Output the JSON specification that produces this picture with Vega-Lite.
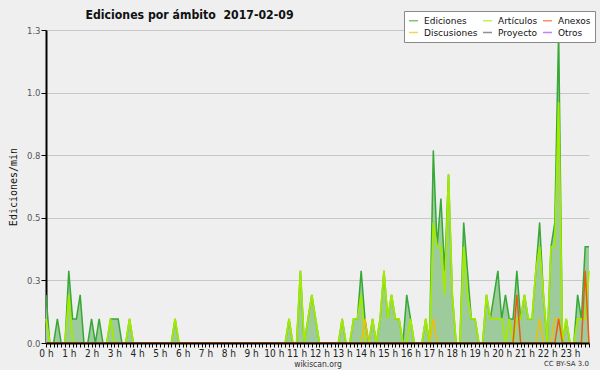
{
  "$schema": "https://vega.github.io/schema/vega-lite/v6.json",
  "background": "#efefef",
  "padding": {"left": 8, "top": 9, "right": 5, "bottom": 4},
  "title": {"text": "Ediciones por ámbito\u00a0 2017-02-09", "anchor": "start", "dx": 77, "offset": -11, "font": "DejaVu Sans Condensed", "fontSize": 12.2, "fontWeight": "bold", "color": "#111111"},
  "vconcat": [
    {
      "width": 543,
      "height": 313,
      "title": {"text": "CC BY-SA 3.0", "orient": "bottom", "anchor": "end", "frame": "group", "offset": -8, "font": "DejaVu Sans", "fontSize": 7, "fontWeight": "normal", "color": "#333333"},
      "data": {"values": [
        {"t":0,"e":0.1923,"a":0.0962,"d":0,"n":0},
        {"t":10,"e":0,"a":0,"d":0,"n":0},
        {"t":20,"e":0,"a":0,"d":0,"n":0},
        {"t":30,"e":0.0962,"a":0,"d":0,"n":0},
        {"t":40,"e":0,"a":0,"d":0,"n":0},
        {"t":50,"e":0,"a":0,"d":0,"n":0},
        {"t":60,"e":0.2885,"a":0.1923,"d":0,"n":0},
        {"t":70,"e":0.0962,"a":0,"d":0,"n":0},
        {"t":80,"e":0.0962,"a":0,"d":0,"n":0},
        {"t":90,"e":0.1923,"a":0,"d":0,"n":0},
        {"t":100,"e":0,"a":0,"d":0,"n":0},
        {"t":110,"e":0,"a":0,"d":0,"n":0},
        {"t":120,"e":0.0962,"a":0,"d":0,"n":0},
        {"t":130,"e":0,"a":0,"d":0,"n":0},
        {"t":140,"e":0.0962,"a":0,"d":0,"n":0},
        {"t":150,"e":0,"a":0,"d":0,"n":0},
        {"t":160,"e":0,"a":0,"d":0,"n":0},
        {"t":170,"e":0.0962,"a":0.0962,"d":0,"n":0},
        {"t":180,"e":0.0962,"a":0,"d":0,"n":0},
        {"t":190,"e":0.0962,"a":0,"d":0,"n":0},
        {"t":200,"e":0,"a":0,"d":0,"n":0},
        {"t":210,"e":0,"a":0,"d":0,"n":0},
        {"t":220,"e":0.0962,"a":0.0962,"d":0,"n":0},
        {"t":230,"e":0,"a":0,"d":0,"n":0},
        {"t":240,"e":0,"a":0,"d":0,"n":0},
        {"t":250,"e":0,"a":0,"d":0,"n":0},
        {"t":260,"e":0,"a":0,"d":0,"n":0},
        {"t":270,"e":0,"a":0,"d":0,"n":0},
        {"t":280,"e":0,"a":0,"d":0,"n":0},
        {"t":290,"e":0,"a":0,"d":0,"n":0},
        {"t":300,"e":0,"a":0,"d":0,"n":0},
        {"t":310,"e":0,"a":0,"d":0,"n":0},
        {"t":320,"e":0,"a":0,"d":0,"n":0},
        {"t":330,"e":0,"a":0,"d":0,"n":0},
        {"t":340,"e":0.0962,"a":0.0962,"d":0,"n":0},
        {"t":350,"e":0,"a":0,"d":0,"n":0},
        {"t":360,"e":0,"a":0,"d":0,"n":0},
        {"t":370,"e":0,"a":0,"d":0,"n":0},
        {"t":380,"e":0,"a":0,"d":0,"n":0},
        {"t":390,"e":0,"a":0,"d":0,"n":0},
        {"t":400,"e":0,"a":0,"d":0,"n":0},
        {"t":410,"e":0,"a":0,"d":0,"n":0},
        {"t":420,"e":0,"a":0,"d":0,"n":0},
        {"t":430,"e":0,"a":0,"d":0,"n":0},
        {"t":440,"e":0,"a":0,"d":0,"n":0},
        {"t":450,"e":0,"a":0,"d":0,"n":0},
        {"t":460,"e":0,"a":0,"d":0,"n":0},
        {"t":470,"e":0,"a":0,"d":0,"n":0},
        {"t":480,"e":0,"a":0,"d":0,"n":0},
        {"t":490,"e":0,"a":0,"d":0,"n":0},
        {"t":500,"e":0,"a":0,"d":0,"n":0},
        {"t":510,"e":0,"a":0,"d":0,"n":0},
        {"t":520,"e":0,"a":0,"d":0,"n":0},
        {"t":530,"e":0,"a":0,"d":0,"n":0},
        {"t":540,"e":0,"a":0,"d":0,"n":0},
        {"t":550,"e":0,"a":0,"d":0,"n":0},
        {"t":560,"e":0,"a":0,"d":0,"n":0},
        {"t":570,"e":0,"a":0,"d":0,"n":0},
        {"t":580,"e":0,"a":0,"d":0,"n":0},
        {"t":590,"e":0,"a":0,"d":0,"n":0},
        {"t":600,"e":0,"a":0,"d":0,"n":0},
        {"t":610,"e":0,"a":0,"d":0,"n":0},
        {"t":620,"e":0,"a":0,"d":0,"n":0},
        {"t":630,"e":0,"a":0,"d":0,"n":0},
        {"t":640,"e":0.0962,"a":0.0962,"d":0,"n":0},
        {"t":650,"e":0,"a":0,"d":0,"n":0},
        {"t":660,"e":0,"a":0,"d":0,"n":0},
        {"t":670,"e":0.2885,"a":0.2885,"d":0,"n":0},
        {"t":680,"e":0,"a":0,"d":0,"n":0},
        {"t":690,"e":0.0962,"a":0.0962,"d":0,"n":0},
        {"t":700,"e":0.1923,"a":0.1923,"d":0,"n":0},
        {"t":710,"e":0.0962,"a":0.0962,"d":0,"n":0},
        {"t":720,"e":0,"a":0,"d":0,"n":0},
        {"t":730,"e":0,"a":0,"d":0,"n":0},
        {"t":740,"e":0,"a":0,"d":0,"n":0},
        {"t":750,"e":0,"a":0,"d":0,"n":0},
        {"t":760,"e":0,"a":0,"d":0,"n":0},
        {"t":770,"e":0,"a":0,"d":0,"n":0},
        {"t":780,"e":0.0962,"a":0.0962,"d":0,"n":0},
        {"t":790,"e":0,"a":0,"d":0,"n":0},
        {"t":800,"e":0,"a":0,"d":0,"n":0},
        {"t":810,"e":0.0962,"a":0.0962,"d":0,"n":0},
        {"t":820,"e":0.0962,"a":0.0962,"d":0,"n":0},
        {"t":830,"e":0.2885,"a":0.1923,"d":0,"n":0},
        {"t":840,"e":0.0962,"a":0,"d":0.0962,"n":0},
        {"t":850,"e":0,"a":0,"d":0,"n":0},
        {"t":860,"e":0.0962,"a":0.0962,"d":0,"n":0},
        {"t":870,"e":0,"a":0,"d":0,"n":0},
        {"t":880,"e":0.0962,"a":0.0962,"d":0,"n":0},
        {"t":890,"e":0.2885,"a":0.2885,"d":0,"n":0},
        {"t":900,"e":0.0962,"a":0.0962,"d":0,"n":0},
        {"t":910,"e":0.1923,"a":0.1923,"d":0,"n":0},
        {"t":920,"e":0.0962,"a":0.0962,"d":0,"n":0},
        {"t":930,"e":0.0962,"a":0.0962,"d":0,"n":0},
        {"t":940,"e":0,"a":0,"d":0,"n":0},
        {"t":950,"e":0.1923,"a":0,"d":0,"n":0},
        {"t":960,"e":0.0962,"a":0.0962,"d":0,"n":0},
        {"t":970,"e":0,"a":0,"d":0,"n":0},
        {"t":980,"e":0,"a":0,"d":0,"n":0},
        {"t":990,"e":0,"a":0,"d":0,"n":0},
        {"t":1000,"e":0.0962,"a":0.0962,"d":0,"n":0},
        {"t":1010,"e":0,"a":0,"d":0,"n":0},
        {"t":1020,"e":0.7692,"a":0.4808,"d":0.0962,"n":0},
        {"t":1030,"e":0.3846,"a":0.3846,"d":0,"n":0},
        {"t":1040,"e":0.5769,"a":0.3846,"d":0,"n":0},
        {"t":1050,"e":0.2885,"a":0.1923,"d":0,"n":0},
        {"t":1060,"e":0.6731,"a":0.6731,"d":0,"n":0},
        {"t":1070,"e":0.1923,"a":0.1923,"d":0,"n":0},
        {"t":1080,"e":0,"a":0,"d":0,"n":0},
        {"t":1090,"e":0,"a":0,"d":0,"n":0},
        {"t":1100,"e":0.4808,"a":0.3846,"d":0,"n":0},
        {"t":1110,"e":0.2885,"a":0.1923,"d":0,"n":0},
        {"t":1120,"e":0.0962,"a":0.0962,"d":0,"n":0},
        {"t":1130,"e":0.0962,"a":0.0962,"d":0,"n":0},
        {"t":1140,"e":0,"a":0,"d":0,"n":0},
        {"t":1150,"e":0,"a":0,"d":0,"n":0},
        {"t":1160,"e":0.1923,"a":0.1923,"d":0,"n":0},
        {"t":1170,"e":0.0962,"a":0.0962,"d":0,"n":0},
        {"t":1180,"e":0.1923,"a":0.0962,"d":0,"n":0},
        {"t":1190,"e":0.2885,"a":0.0962,"d":0,"n":0},
        {"t":1200,"e":0.0962,"a":0.0962,"d":0,"n":0},
        {"t":1210,"e":0.1923,"a":0,"d":0,"n":0},
        {"t":1220,"e":0.0962,"a":0.0962,"d":0,"n":0},
        {"t":1230,"e":0.0962,"a":0,"d":0,"n":0},
        {"t":1240,"e":0.2885,"a":0.0962,"d":0,"n":0.1923},
        {"t":1250,"e":0.0962,"a":0.0962,"d":0,"n":0},
        {"t":1260,"e":0.1923,"a":0.1923,"d":0,"n":0},
        {"t":1270,"e":0.0962,"a":0.0962,"d":0,"n":0},
        {"t":1280,"e":0.0962,"a":0.0962,"d":0,"n":0},
        {"t":1290,"e":0.2885,"a":0.2885,"d":0,"n":0},
        {"t":1300,"e":0.4808,"a":0.3846,"d":0.0962,"n":0},
        {"t":1310,"e":0.1923,"a":0.1923,"d":0,"n":0},
        {"t":1320,"e":0,"a":0,"d":0,"n":0},
        {"t":1330,"e":0.3846,"a":0.3846,"d":0,"n":0},
        {"t":1340,"e":0.4808,"a":0.3846,"d":0.0962,"n":0},
        {"t":1350,"e":1.25,"a":0.9615,"d":0.0962,"n":0.0962},
        {"t":1360,"e":0,"a":0,"d":0,"n":0},
        {"t":1370,"e":0.0962,"a":0.0962,"d":0,"n":0},
        {"t":1380,"e":0,"a":0,"d":0,"n":0},
        {"t":1390,"e":0,"a":0,"d":0,"n":0},
        {"t":1400,"e":0.1923,"a":0.0962,"d":0,"n":0},
        {"t":1410,"e":0.0962,"a":0.0962,"d":0,"n":0},
        {"t":1420,"e":0.3846,"a":0.0962,"d":0,"n":0.2885},
        {"t":1430,"e":0.3846,"a":0.2885,"d":0,"n":0}
      ]},
      "encoding": {
        "x": {
          "field": "t", "type": "quantitative", "title": "wikiscan.org",
          "scale": {"domain": [0, 1430], "nice": false, "zero": false},
          "axis": {
            "zindex": 2,
            "values": [0,10,20,30,40,50,60,70,80,90,100,110,120,130,140,150,160,170,180,190,200,210,220,230,240,250,260,270,280,290,300,310,320,330,340,350,360,370,380,390,400,410,420,430,440,450,460,470,480,490,500,510,520,530,540,550,560,570,580,590,600,610,620,630,640,650,660,670,680,690,700,710,720,730,740,750,760,770,780,790,800,810,820,830,840,850,860,870,880,890,900,910,920,930,940,950,960,970,980,990,1000,1010,1020,1030,1040,1050,1060,1070,1080,1090,1100,1110,1120,1130,1140,1150,1160,1170,1180,1190,1200,1210,1220,1230,1240,1250,1260,1270,1280,1290,1300,1310,1320,1330,1340,1350,1360,1370,1380,1390,1400,1410,1420,1430],
            "labelExpr": "datum.value % 60 == 0 ? (datum.value / 60) + ' h' : ''"
          }
        }
      },
      "layer": [
        {
          "mark": {"type": "area", "color": "#9ecb9c", "opacity": 1},
          "encoding": {
            "y": {
              "field": "e", "type": "quantitative", "title": "Ediciones/min",
              "scale": {"domain": [0, 1.25], "nice": false},
              "axis": {
                "values": [0,0.0625,0.125,0.1875,0.25,0.3125,0.375,0.4375,0.5,0.5625,0.625,0.6875,0.75,0.8125,0.875,0.9375,1,1.0625,1.125,1.1875,1.25],
                "labelExpr": "datum.value * 4 == round(datum.value * 4) ? format(datum.value, '.1f') : ''",
                "gridOpacity": {"condition": {"test": "datum.value * 4 == round(datum.value * 4)", "value": 1}, "value": 0}
              }
            }
          }
        },
        {
          "mark": {"type": "line", "strokeWidth": 1.5},
          "encoding": {
            "y": {"field": "e", "type": "quantitative", "title": "Ediciones/min"},
            "color": {
              "datum": "Ediciones",
              "scale": {"domain": ["Ediciones", "Artículos", "Anexos", "Discusiones", "Proyecto", "Otros"], "range": ["#36a836", "#a2ea00", "#ee5a10", "#f0c000", "#555555", "#9944ee"]},
              "legend": {"orient": "none", "legendX": 358, "legendY": -19, "columns": 3, "direction": "horizontal", "title": null}
            }
          }
        },
        {
          "mark": {"type": "line", "strokeWidth": 1.8},
          "encoding": {
            "y": {"field": "a", "type": "quantitative", "title": "Ediciones/min"},
            "color": {"datum": "Artículos"}
          }
        },
        {
          "mark": {"type": "line", "strokeWidth": 1.5},
          "encoding": {
            "y": {"field": "d", "type": "quantitative", "title": "Ediciones/min"},
            "color": {"datum": "Discusiones"}
          }
        },
        {
          "mark": {"type": "line", "strokeWidth": 1.5},
          "encoding": {
            "y": {"field": "n", "type": "quantitative", "title": "Ediciones/min"},
            "color": {"datum": "Anexos"}
          }
        }
      ]
    }
  ],
  "config": {
    "view": {"stroke": null},
    "font": "DejaVu Sans",
    "axisX": {"domainColor": "#000000", "domainWidth": 2, "tickColor": "#000000", "tickSize": 4, "tickWidth": 1, "labelFont": "DejaVu Sans Condensed", "labelFontSize": 10, "labelColor": "#222222", "labelPadding": 1, "labelFlush": false, "labelOverlap": false, "grid": false, "titleFont": "DejaVu Sans Condensed", "titleFontSize": 8.5, "titleFontWeight": "normal", "titleColor": "#333333", "titlePadding": 1},
    "axisY": {"domainColor": "#000000", "domainWidth": 2, "tickColor": "#000000", "tickSize": 5, "labelFontSize": 8.5, "labelColor": "#555555", "labelPadding": 1, "labelFlush": false, "labelOverlap": false, "grid": true, "gridColor": "#c8c8c8", "gridWidth": 1, "titleFont": "DejaVu Sans Mono", "titleFontSize": 10, "titleFontWeight": "normal", "titleColor": "#111111", "titlePadding": 8},
    "legend": {"fillColor": "#ffffff", "strokeColor": "#888888", "padding": 4, "symbolType": "stroke", "symbolSize": 81, "symbolStrokeWidth": 1.5, "symbolOpacity": 0.65, "labelFont": "DejaVu Sans", "labelFontSize": 9, "labelColor": "#111111", "labelOffset": 5, "rowPadding": 1, "columnPadding": 2}
  }
}
